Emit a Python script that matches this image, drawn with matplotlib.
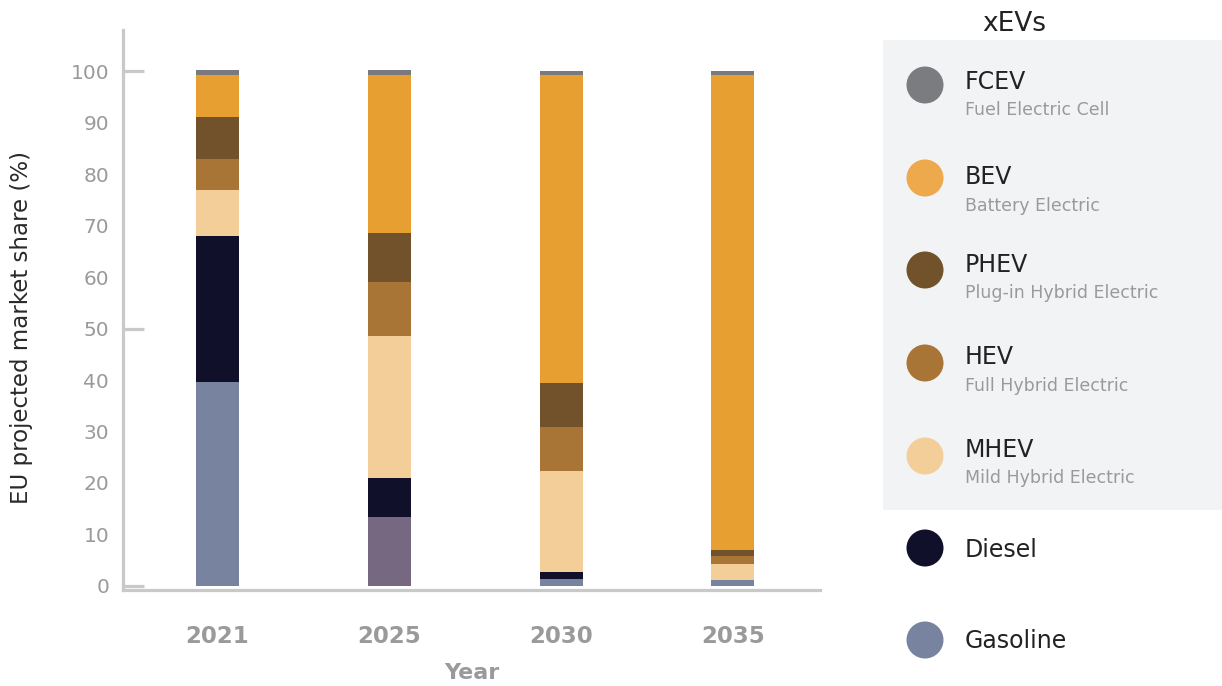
import matplotlib
matplotlib.use("Agg")
import matplotlib.pyplot as plt
from matplotlib.patches import Rectangle, Ellipse
from matplotlib.ticker import FixedLocator
import numpy as np

plt.rcParams['font.family'] = ['DejaVu Sans']

years = ["2021", "2025", "2030", "2035"]
series = ["Gasoline", "Diesel", "MHEV", "HEV", "PHEV", "BEV", "FCEV"]
gasoline = [39.7, 13.4, 1.4, 1.2]
diesel = [28.2, 7.6, 1.3, 0.0]
mhev = [9.1, 27.6, 19.7, 3.0]
hev = [5.9, 10.5, 8.5, 1.6]
phev = [8.2, 9.4, 8.6, 1.2]
bev = [8.2, 30.8, 59.7, 92.2]
fcev = [0.9, 0.9, 0.9, 0.9]
values = [gasoline, diesel, mhev, hev, phev, bev, fcev]

bar_colors = {
    "Gasoline": ["#7883A0", "#756880", "#7883A0", "#7883A0"],
    "Diesel": "#10102B",
    "MHEV": "#F3CE98",
    "HEV": "#A97536",
    "PHEV": "#71522B",
    "BEV": "#E89F32",
    "FCEV": "#7A7A7E",
}

legend_names = ["FCEV", "BEV", "PHEV", "HEV", "MHEV", "Diesel", "Gasoline"]
legend_subs = ["Fuel Electric Cell", "Battery Electric", "Plug-in Hybrid Electric",
               "Full Hybrid Electric", "Mild Hybrid Electric", "", ""]
legend_colors = ["#7B7C80", "#EDA94B", "#71522B", "#A97536", "#F3CE98", "#10102B", "#7883A0"]
legend_title = "xEVs"

W, H = 1222, 686
fig = plt.figure(figsize=(W / 100, H / 100), dpi=100)

axc = "#C8CAC9"
grey_txt = "#9A9A9C"
l, r, t, b = 123, 820, 30, 590
ax = fig.add_axes([l / W, (H - b) / H, (r - l) / W, (b - t) / H])

x = np.arange(len(years))
bottom = np.zeros(len(years))
for name, vals in zip(series, values):
    ax.bar(x, vals, width=0.25, bottom=bottom, color=bar_colors[name], linewidth=0)
    bottom += np.array(vals)

ax.set_xlim(-0.547, 3.506)
ax.set_ylim(-0.8, 108)

for s in ["top", "right"]:
    ax.spines[s].set_visible(False)
for s in ["left", "bottom"]:
    ax.spines[s].set_color(axc)
    ax.spines[s].set_linewidth(2.3)

ax.set_yticks(np.arange(0, 101, 10))
ax.tick_params(axis="y", length=0, pad=10, labelsize=14.5, labelcolor=grey_txt)
ax.yaxis.set_minor_locator(FixedLocator([0, 50, 100]))
ax.yaxis.remove_overlapping_locs = False
ax.tick_params(axis="y", which="minor", direction="in", length=15, width=2.3, color=axc)

ax.set_xticks(x)
ax.set_xticklabels(years, fontweight="bold")
ax.tick_params(axis="x", length=0, pad=25, labelsize=16.5, labelcolor=grey_txt)

ax.set_xlabel("Year", fontsize=16, fontweight="bold", color=grey_txt, labelpad=11)
ax.set_ylabel("EU projected market share (%)", fontsize=16.5, color="#2A2A2A")
ax.yaxis.set_label_coords((33 - l) / (r - l), (b - 328) / (b - t))

# legend panel in pixel coordinates
lx0 = 883
lax = fig.add_axes([lx0 / W, 0, (W - lx0) / W, 1])
lax.set_xlim(lx0, W)
lax.set_ylim(H, 0)
lax.axis("off")
lax.add_patch(Rectangle((lx0, 40), W - lx0, 470, facecolor="#F2F3F5", edgecolor="none"))
lax.text(1014, 31, legend_title, fontsize=19, color="#222222", ha="center", va="baseline")

circle_y = [85, 178, 270, 363, 456, 548, 640]
name_base = [89, 184, 272, 364, 457, 557, 648]
sub_base = [115, 211, 298, 391, 483, 0, 0]
for i, (name, sub, col) in enumerate(zip(legend_names, legend_subs, legend_colors)):
    lax.add_patch(Ellipse((925, circle_y[i]), 37, 37, facecolor=col, edgecolor="none"))
    lax.text(965, name_base[i], name, fontsize=17, color="#222222", ha="left", va="baseline")
    if sub:
        lax.text(965, sub_base[i], sub, fontsize=12.5, color=grey_txt, ha="left", va="baseline")

fig.savefig("out.png", dpi=100)
